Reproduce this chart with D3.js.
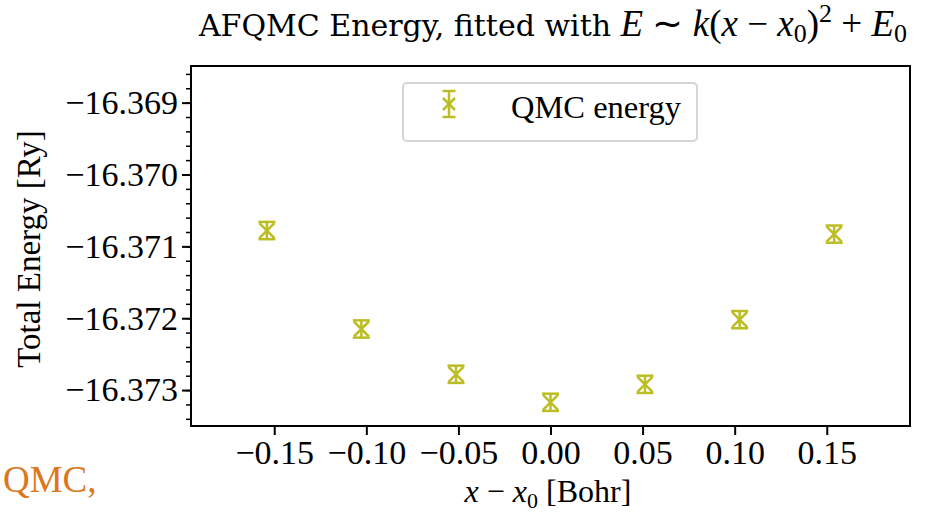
<!DOCTYPE html>
<html lang="en">
<head>
  <meta charset="utf-8">
  <title>AFQMC Energy</title>
  <script src="https://d3js.org/d3.v7.min.js"></script>
  <style>
    body { margin: 0; background: #fff; }
    svg { display: block; font-family: "Liberation Serif", serif; }
  </style>
</head>
<body>
  <svg id="chart" width="931" height="512"></svg>
  <script>
    // data
    const displacements = [-0.154, -0.1027, -0.0513, 0.0, 0.0513, 0.1027, 0.154];
    const energies = [-16.37078, -16.37215, -16.37278, -16.37317, -16.37292, -16.37202, -16.37083];
    const errors = [0.00012, 0.00012, 0.00012, 0.00012, 0.00012, 0.00012, 0.00012];
    const xTickValues = [-0.15, -0.10, -0.05, 0.00, 0.05, 0.10, 0.15];
    const yTickValues = [-16.369, -16.370, -16.371, -16.372, -16.373];
    const seriesName = "QMC energy";

    const color = "#bcbd22";
    const plot = { left: 191, right: 910, top: 66, bottom: 426 };

    const svg = d3.select("#chart");

    const x = d3.scaleLinear().domain([-0.1952, 0.1952]).range([plot.left, plot.right]);
    const y = d3.scaleLinear().domain([-16.3735, -16.36849]).range([plot.bottom, plot.top]);

    // x axis
    const xAxis = svg.append("g")
      .attr("transform", `translate(0,${plot.bottom})`)
      .call(d3.axisBottom(x).tickValues(xTickValues).tickFormat(d3.format(".2f"))
        .tickSize(9).tickPadding(5));
    xAxis.select(".domain").remove();
    xAxis.selectAll("line").attr("stroke", "#000").attr("stroke-width", 2);
    xAxis.selectAll("text").attr("font-size", 34).attr("font-family", "Liberation Serif").attr("fill", "#000");

    // y axis, minor ticks first
    const yMinor = svg.append("g")
      .attr("transform", `translate(${plot.left},0)`)
      .call(d3.axisLeft(y).ticks(25).tickSize(5).tickFormat(""));
    yMinor.select(".domain").remove();
    yMinor.selectAll("line").attr("stroke", "#000").attr("stroke-width", 1.5);

    const yAxis = svg.append("g")
      .attr("transform", `translate(${plot.left},0)`)
      .call(d3.axisLeft(y).tickValues(yTickValues).tickFormat(d3.format(".3f"))
        .tickSize(9).tickPadding(4));
    yAxis.select(".domain").remove();
    yAxis.selectAll("line").attr("stroke", "#000").attr("stroke-width", 2);
    yAxis.selectAll("text").attr("font-size", 34).attr("font-family", "Liberation Serif").attr("fill", "#000");

    // frame
    svg.append("rect")
      .attr("x", plot.left).attr("y", plot.top)
      .attr("width", plot.right - plot.left).attr("height", plot.bottom - plot.top)
      .attr("fill", "none").attr("stroke", "#000").attr("stroke-width", 2);

    // error bars + x markers
    const pts = displacements.map((d, i) => ({ x: d, e: energies[i], err: errors[i] }));
    const cap = 8.5, m = 7.5;
    const pg = svg.append("g").attr("stroke", color).attr("stroke-width", 2.5).attr("fill", "none");
    const pt = pg.selectAll("g").data(pts).join("g");
    pt.append("line")
      .attr("x1", d => x(d.x)).attr("x2", d => x(d.x))
      .attr("y1", d => y(d.e - d.err)).attr("y2", d => y(d.e + d.err));
    pt.append("line")
      .attr("x1", d => x(d.x) - cap).attr("x2", d => x(d.x) + cap)
      .attr("y1", d => y(d.e - d.err)).attr("y2", d => y(d.e - d.err));
    pt.append("line")
      .attr("x1", d => x(d.x) - cap).attr("x2", d => x(d.x) + cap)
      .attr("y1", d => y(d.e + d.err)).attr("y2", d => y(d.e + d.err));
    pt.append("path")
      .attr("d", d => {
        const cx = x(d.x), cy = y(d.e);
        return `M${cx - m},${cy - m}L${cx + m},${cy + m}M${cx - m},${cy + m}L${cx + m},${cy - m}`;
      });

    // legend
    const lg = svg.append("g");
    lg.append("rect")
      .attr("x", 403).attr("y", 83).attr("width", 294).attr("height", 58).attr("rx", 4)
      .attr("fill", "#fff").attr("stroke", "#d5d5d5").attr("stroke-width", 2);
    const lx = 449, ly = 104;
    const lm = lg.append("g").attr("stroke", color).attr("stroke-width", 2.5).attr("fill", "none");
    lm.append("path").attr("d", `M${lx},${ly - 13}V${ly + 13}M${lx - 6.5},${ly - 13}H${lx + 6.5}M${lx - 6.5},${ly + 13}H${lx + 6.5}`);
    lm.append("path").attr("d", `M${lx - 6},${ly - 6}L${lx + 6},${ly + 6}M${lx - 6},${ly + 6}L${lx + 6},${ly - 6}`);
    lg.append("text").attr("x", 511).attr("y", 118).attr("font-size", 32.5).text(seriesName);

    // axis labels
    svg.append("text")
      .attr("transform", "translate(40,249) rotate(-90)")
      .attr("text-anchor", "middle").attr("font-size", 33)
      .text("Total Energy [Ry]");

    const xl = svg.append("text")
      .attr("x", 548).attr("y", 502).attr("text-anchor", "middle").attr("font-size", 32);
    xl.append("tspan").attr("font-style", "italic").text("x");
    xl.append("tspan").text(" \u2212 ");
    xl.append("tspan").attr("font-style", "italic").text("x");
    xl.append("tspan").attr("font-size", 22).attr("dy", 6).text("0");
    xl.append("tspan").attr("dy", -6).text(" [Bohr]");

    // title
    const title = svg.append("text")
      .attr("x", 553).attr("y", 36).attr("text-anchor", "middle");
    title.append("tspan").attr("font-family", "DejaVu Serif").attr("font-size", 30)
      .text("AFQMC Energy, fitted with ");
    const mathParts = [
      ["E", "italic"], [" \u223C ", null], ["k", "italic"], ["(", null], ["x", "italic"],
      [" \u2212 ", null], ["x", "italic"], ["0", "sub"], [")", null], ["2", "sup"],
      [" + ", null], ["E", "italic"], ["0", "sub"]
    ];
    let shift = 0;
    mathParts.forEach(([t, kind]) => {
      const s = title.append("tspan").attr("font-family", "Liberation Serif").attr("font-size", 37);
      let target = 0;
      if (kind === "italic") s.attr("font-style", "italic");
      if (kind === "sub") { s.attr("font-size", 26); target = 6; }
      if (kind === "sup") { s.attr("font-size", 26); target = -14; }
      s.attr("dy", target - shift);
      shift = target;
      s.text(t);
    });

    // stray orange text at bottom left
    svg.append("text")
      .attr("x", 3).attr("y", 492)
      .attr("font-size", 37).attr("fill", "#dd771d")
      .text("QMC,");
  </script>
</body>
</html>
